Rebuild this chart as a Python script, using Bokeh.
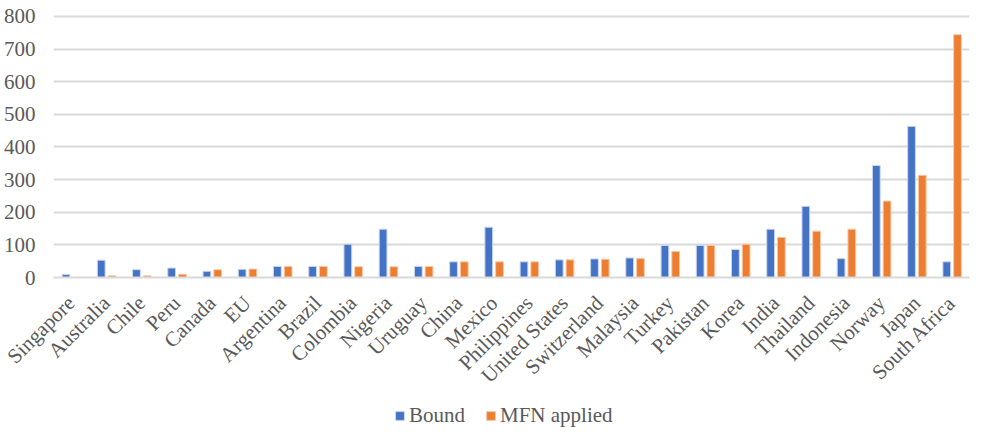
import math
from bokeh.plotting import figure
from bokeh.layouts import column
from bokeh.models import ColumnDataSource, Legend, LegendItem, FactorRange, SingleIntervalTicker, Range1d
from bokeh.transform import dodge
from bokeh.embed import file_html
from bokeh.resources import INLINE

countries = ["Singapore", "Australia", "Chile", "Peru", "Canada", "EU", "Argentina", "Brazil",
             "Colombia", "Nigeria", "Uruguay", "China", "Mexico", "Philippines", "United States",
             "Switzerland", "Malaysia", "Turkey", "Pakistan", "Korea", "India", "Thailand",
             "Indonesia", "Norway", "Japan", "South Africa"]
bound = [9, 53, 24, 29, 19, 25, 34, 34, 102, 148, 34, 48, 154, 48, 54, 57, 60, 98, 98, 86,
         148, 218, 58, 343, 463, 48]
mfn = [0, 5, 5, 10, 24, 26, 34, 34, 33, 33, 34, 48, 48, 48, 54, 56, 58, 80, 98, 102,
       123, 142, 148, 234, 313, 744]
series_names = ["Bound", "MFN applied"]
series_colors = ["#4472C4", "#ED7D31"]
series_edges = ["#c9d6ee", "#f7c9a8"]

src = ColumnDataSource(dict(country=countries, bound=bound, mfn=mfn))

FONT = "Liberation Serif"
GRAY = "#595959"

p = figure(x_range=FactorRange(*countries, range_padding=0), y_range=Range1d(0, 818),
           width=971, height=404, output_backend="svg", toolbar_location=None)
p.min_border_left = 47
p.min_border_right = 2
p.min_border_top = 10
p.min_border_bottom = 127
p.outline_line_color = None

p.vbar(x=dodge("country", -0.145, range=p.x_range), top="bound", width=0.22, source=src,
       fill_color=series_colors[0], line_color=series_edges[0], line_width=1)
p.vbar(x=dodge("country", 0.16, range=p.x_range), top="mfn", width=0.22, source=src,
       fill_color=series_colors[1], line_color=series_edges[1], line_width=1)

p.yaxis.ticker = SingleIntervalTicker(interval=100)
p.yaxis.axis_line_color = None
p.yaxis.major_tick_line_color = None
p.yaxis.major_tick_out = 0
p.yaxis.minor_tick_line_color = None
p.yaxis.major_label_text_font = FONT
p.yaxis.major_label_text_font_size = "21px"
p.yaxis.major_label_text_color = GRAY
p.yaxis.major_label_standoff = 14

p.xaxis.axis_line_color = "#d9d9d9"
p.xaxis.axis_line_width = 2
p.xaxis.major_tick_line_color = None
p.xaxis.major_tick_out = 0
p.xaxis.minor_tick_line_color = None
p.xaxis.major_label_orientation = math.pi / 4
p.xaxis.major_label_text_font = FONT
p.xaxis.major_label_text_font_size = "21px"
p.xaxis.major_label_text_color = GRAY
p.xaxis.major_label_standoff = 22

p.xgrid.grid_line_color = None
p.ygrid.grid_line_color = "#d9d9d9"
p.ygrid.grid_line_width = 2

# legend strip below the chart (its frame is aligned with the main chart's frame)
lf = figure(width=971, height=24, x_range=(0, 1), y_range=(0, 1),
            x_axis_location=None, y_axis_location=None,
            output_backend="svg", toolbar_location=None)
lf.min_border = 0
lf.min_border_left = 0
lf.min_border_right = 0
lf.min_border_top = 0
lf.min_border_bottom = 0
lf.grid.visible = False
lf.outline_line_color = None
offscreen = ColumnDataSource(dict(x=[-10], top=[-10]))
items = []
for name, col, edge in zip(series_names, series_colors, series_edges):
    r = lf.vbar(x="x", top="top", width=0.1, source=offscreen, fill_color=col, line_color=edge)
    items.append(LegendItem(label=name, renderers=[r]))
legend = Legend(items=items, orientation="horizontal", location=(341, 0))
legend.label_text_font = FONT
legend.label_text_font_size = "21px"
legend.label_text_color = GRAY
legend.glyph_width = 11
legend.glyph_height = 11
legend.spacing = 20
legend.label_standoff = 4
legend.border_line_color = None
legend.background_fill_alpha = 0
legend.margin = 0
legend.padding = 0
lf.add_layout(legend)

layout = column(p, lf, spacing=0)
open("out.html", "w").write(file_html(layout, INLINE))
